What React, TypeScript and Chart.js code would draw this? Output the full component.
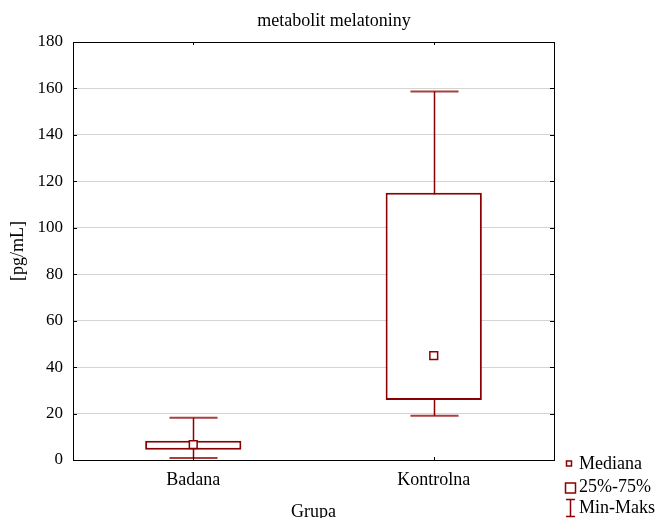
import React, { useEffect, useRef } from "react";
import { Chart, registerables } from "chart.js";

Chart.register(...registerables);

const categories = ["Badana", "Kontrolna"];
const minValues = [0.9, 19.1];
const q1Values = [4.4, 25.8];
const medianValues = [6.6, 44.9];
const q3Values = [8.3, 115.1];
const maxValues = [18.2, 158.7];
const yTicks = [0, 20, 40, 60, 80, 100, 120, 140, 160, 180];

const chartTitle = "metabolit melatoniny";
const xTitle = "Grupa";
const yTitle = "[pg/mL]";
const legendLabels = ["Mediana", "25%-75%", "Min-Maks"];

const RED = "#8B0000";
const FONT = "'Liberation Serif', 'Times New Roman', serif";

const boxPlugin = {
  id: "boxExtras",
  beforeDatasetsDraw(chart: any) {
    const { ctx, scales } = chart;
    const x = scales.x;
    const y = scales.y;
    const catW = x.width / categories.length;
    ctx.save();
    ctx.strokeStyle = RED;
    categories.forEach((_, i) => {
      const cx = Math.round(x.getPixelForValue(i)) + 0.5;
      const yMin = y.getPixelForValue(minValues[i]);
      const yMax = y.getPixelForValue(maxValues[i]);
      const capHalf = catW * 0.1;
      ctx.lineWidth = 1.5;
      ctx.beginPath();
      ctx.moveTo(cx, yMin);
      ctx.lineTo(cx, yMax);
      ctx.stroke();
      ctx.lineWidth = 2;
      ctx.globalAlpha = 0.75;
      ctx.beginPath();
      ctx.moveTo(cx - capHalf, yMin);
      ctx.lineTo(cx + capHalf, yMin);
      ctx.moveTo(cx - capHalf, yMax);
      ctx.lineTo(cx + capHalf, yMax);
      ctx.stroke();
      ctx.globalAlpha = 1;
    });
    ctx.restore();
  },
  afterDraw(chart: any) {
    const { ctx, chartArea, scales } = chart;
    const { left, right, top, bottom } = chartArea;
    ctx.save();
    // frame
    ctx.strokeStyle = "#000";
    ctx.lineWidth = 1;
    ctx.strokeRect(Math.round(left) + 0.5, Math.round(top) + 0.5, Math.round(right - left), Math.round(bottom - top));
    // inner ticks
    ctx.beginPath();
    yTicks.forEach((v) => {
      const py = Math.round(scales.y.getPixelForValue(v)) + 0.5;
      ctx.moveTo(left, py);
      ctx.lineTo(left + 4, py);
      ctx.moveTo(right, py);
      ctx.lineTo(right - 4, py);
    });
    categories.forEach((_, i) => {
      const px = Math.round(scales.x.getPixelForValue(i)) + 0.5;
      ctx.moveTo(px, bottom);
      ctx.lineTo(px, bottom - 3);
      ctx.moveTo(px, top);
      ctx.lineTo(px, top + 3);
    });
    ctx.stroke();

    // texts
    ctx.fillStyle = "#000";
    ctx.font = `18px ${FONT}`;
    ctx.textAlign = "center";
    ctx.textBaseline = "alphabetic";
    ctx.fillText(chartTitle, 334, 26);
    ctx.fillText(xTitle, (left + right) / 2, 517);
    ctx.save();
    ctx.translate(18, (top + bottom) / 2);
    ctx.rotate(-Math.PI / 2);
    ctx.textBaseline = "middle";
    ctx.fillText(yTitle, 0, 0);
    ctx.restore();

    // legend
    const lx = right + 12;
    ctx.strokeStyle = RED;
    ctx.lineWidth = 1.5;
    ctx.strokeRect(lx + 0.5, 461, 5, 5);
    ctx.strokeRect(lx - 0.5, 483, 10, 10);
    ctx.beginPath();
    ctx.moveTo(lx + 4.5, 499.5);
    ctx.lineTo(lx + 4.5, 516.5);
    ctx.moveTo(lx, 499.5);
    ctx.lineTo(lx + 9, 499.5);
    ctx.moveTo(lx, 516.5);
    ctx.lineTo(lx + 9, 516.5);
    ctx.stroke();
    ctx.textAlign = "left";
    ctx.textBaseline = "middle";
    ctx.fillText(legendLabels[0], lx + 13, 464);
    ctx.fillText(legendLabels[1], lx + 13, 487);
    ctx.fillText(legendLabels[2], lx + 13, 508);
    ctx.restore();
  },
};

export default function App() {
  const ref = useRef<HTMLCanvasElement | null>(null);
  useEffect(() => {
    if (!ref.current) return;
    const chart = new Chart(ref.current, {
      type: "bar",
      data: {
        labels: categories,
        datasets: [
          {
            type: "line",
            label: "Mediana",
            data: medianValues,
            showLine: false,
            pointStyle: "rect",
            pointRadius: 5.5,
            pointBackgroundColor: "#fff",
            pointBorderColor: RED,
            pointBorderWidth: 1.5,
            order: 0,
          } as any,
          {
            type: "bar",
            label: "25%-75%",
            data: q1Values.map((v, i) => [v, q3Values[i]]),
            backgroundColor: "#fff",
            borderColor: RED,
            borderWidth: 2,
            borderSkipped: false,
            barPercentage: 0.4,
            categoryPercentage: 1,
            order: 1,
          } as any,
        ],
      },
      options: {
        animation: false,
        responsive: false,
        devicePixelRatio: 1,
        layout: { padding: { left: 0, right: 103, top: 42, bottom: 0 } },
        plugins: {
          legend: { display: false },
          title: { display: false },
          tooltip: { enabled: false },
        },
        scales: {
          x: {
            offset: true,
            grid: { display: false, drawTicks: false },
            border: { display: false },
            ticks: { color: "#000", font: { family: FONT, size: 18 }, padding: 9 },
            afterFit(scale: any) {
              scale.height = 58;
            },
          },
          y: {
            min: 0,
            max: 180,
            grid: { color: "#d4d4d4", lineWidth: 1, drawTicks: false },
            border: { display: false },
            ticks: {
              stepSize: 20,
              color: "#000",
              font: { family: FONT, size: 17 },
              padding: 10,
            },
            afterFit(scale: any) {
              scale.width = 73;
            },
          },
        },
      } as any,
      plugins: [boxPlugin],
    });
    return () => chart.destroy();
  }, []);
  return (
    <div style={{ position: "fixed", left: 0, top: 0, width: 657, height: 518, background: "#fff" }}>
      <canvas ref={ref} width={657} height={518} />
    </div>
  );
}
